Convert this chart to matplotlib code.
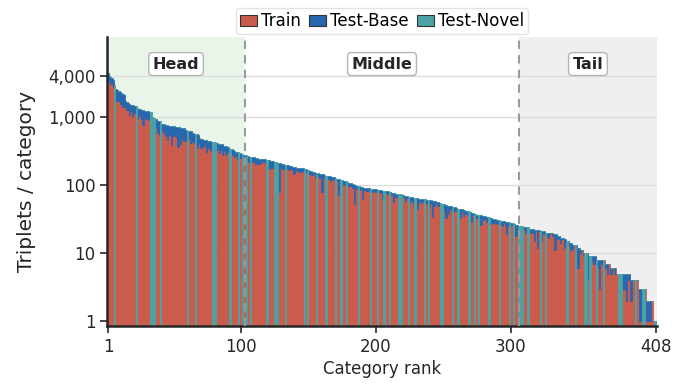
import numpy as np
import matplotlib
matplotlib.use("Agg")
import matplotlib.pyplot as plt
from matplotlib.ticker import FixedLocator, FixedFormatter
from matplotlib.patches import Patch

# ---- data ----
total = [
    4400, 4000, 3900, 3700, 3500, 3000, 2600, 2500, 2400, 2300,
    2250, 2200, 2100, 1700, 1650, 1600, 1580, 1520, 1500, 1480,
    1460, 1440, 1350, 1320, 1300, 1280, 1260, 1240, 1230, 1220,
    1210, 1200, 1190, 1000, 960, 950, 930, 880, 870, 860,
    800, 790, 780, 770, 760, 750, 745, 740, 735, 730,
    720, 715, 710, 705, 700, 698, 695, 690, 640, 630,
    625, 620, 615, 580, 565, 560, 555, 550, 500, 480,
    470, 466, 462, 458, 450, 440, 438, 436, 434, 432,
    430, 410, 405, 400, 398, 396, 380, 375, 370, 365,
    345, 340, 335, 330, 315, 310, 306, 303, 300, 290,
    285, 280, 278, 276, 265, 262, 260, 258, 256, 255,
    252, 248, 246, 245, 244, 243, 242, 240, 236, 232,
    230, 228, 226, 224, 222, 216, 212, 210, 208, 206,
    204, 200, 198, 197, 196, 194, 190, 186, 184, 182,
    181, 180, 179, 178, 177, 176, 172, 170, 168, 166,
    162, 160, 158, 155, 153, 152, 150, 148, 146, 145,
    144, 142, 138, 136, 135, 134, 133, 132, 130, 127,
    125, 124, 122, 120, 117, 116, 115, 114, 110, 108,
    107, 106, 104, 101, 99, 98, 97, 96, 95, 93,
    92, 92, 91, 90, 90, 89, 88, 88, 87, 87,
    86, 85, 84, 84, 83, 83, 82, 82, 81, 80,
    78, 77, 76, 76, 75, 74, 74, 73, 73, 72,
    70, 69, 69, 68, 67, 67, 66, 65, 64, 64,
    64, 63, 63, 63, 62, 62, 62, 61, 61, 60,
    60, 59, 58, 58, 57, 56, 55, 54, 53, 53,
    52, 51, 50, 50, 49, 49, 48, 47, 47, 46,
    45, 45, 44, 44, 43, 43, 42, 42, 41, 40,
    39, 39, 38, 38, 37, 37, 36, 36, 35, 35,
    35, 34, 34, 34, 33, 33, 32, 32, 32, 31,
    31, 31, 30, 30, 30, 29, 29, 29, 29, 28,
    28, 28, 27, 26, 26, 25, 25, 25, 25, 24,
    24, 24, 24, 23, 23, 23, 23, 22, 22, 22,
    22, 21, 21, 21, 21, 20, 20, 20, 20, 20,
    20, 19, 19, 19, 18, 18, 17, 17, 17, 16,
    16, 15, 15, 14, 14, 13, 13, 13, 13, 12,
    12, 11, 11, 10, 10, 10, 10, 9, 9, 9,
    9, 9, 9, 8, 8, 8, 8, 8, 8, 8,
    7, 7, 7, 6, 6, 6, 6, 6, 5, 5,
    5, 5, 5, 5, 5, 5, 5, 5, 4, 4,
    4, 4, 4, 4, 3, 3, 3, 3, 3, 3,
    2, 2, 2, 2, 2, 1, 1, 1,
]

test_base = [
    900, 700, 800, 600, 700, 0, 900, 800, 700, 750,
    700, 800, 600, 300, 400, 350, 500, 300, 450, 350,
    300, 0, 400, 250, 300, 350, 500, 200, 300, 250,
    300, 250, 0, 250, 0, 200, 250, 300, 350, 0,
    150, 200, 180, 250, 300, 200, 200, 350, 150, 200,
    150, 200, 350, 150, 300, 200, 250, 200, 200, 0,
    150, 200, 100, 150, 150, 0, 200, 120, 100, 130,
    100, 100, 80, 150, 100, 90, 120, 80, 0, 100,
    0, 80, 60, 100, 70, 120, 60, 100, 80, 60,
    0, 0, 60, 50, 60, 40, 70, 0, 50, 40,
    0, 40, 30, 0, 50, 30, 0, 40, 35, 30,
    50, 30, 40, 25, 30, 20, 25, 30, 0, 40,
    60, 50, 40, 45, 0, 30, 0, 130, 25, 30,
    30, 20, 0, 25, 30, 20, 15, 20, 40, 20,
    15, 20, 25, 20, 15, 20, 0, 15, 0, 20,
    15, 20, 15, 10, 25, 0, 15, 20, 10, 65,
    10, 15, 0, 12, 10, 20, 15, 10, 12, 0,
    10, 52, 10, 0, 12, 15, 10, 0, 8, 10,
    10, 8, 12, 48, 10, 8, 0, 10, 8, 30,
    8, 10, 6, 8, 5, 0, 10, 7, 6, 8,
    0, 6, 5, 8, 20, 0, 6, 5, 7, 0,
    5, 6, 19, 5, 8, 4, 0, 6, 0, 5,
    6, 10, 5, 0, 12, 8, 5, 14, 0, 6,
    20, 6, 5, 8, 4, 0, 10, 6, 0, 14,
    5, 25, 8, 4, 3, 6, 5, 0, 0, 8,
    10, 18, 4, 12, 5, 8, 0, 6, 3, 4,
    0, 6, 11, 3, 8, 3, 4, 6, 0, 5,
    10, 3, 0, 5, 4, 0, 3, 10, 2, 4,
    3, 5, 2, 0, 6, 3, 4, 2, 5, 3,
    4, 0, 3, 5, 2, 3, 10, 4, 0, 3,
    2, 0, 2, 8, 4, 0, 0, 2, 0, 1,
    4, 2, 0, 3, 2, 3, 1, 7, 1, 10,
    1, 0, 6, 1, 2, 0, 2, 3, 1, 0,
    2, 1, 8, 1, 1, 2, 3, 1, 1, 4,
    1, 0, 1, 1, 3, 1, 0, 0, 1, 6,
    1, 1, 0, 1, 0, 0, 6, 1, 0, 0,
    1, 2, 2, 0, 2, 5, 0, 1, 0, 0,
    1, 2, 0, 1, 1, 0, 1, 0, 0, 0,
    0, 0, 2, 2, 2, 3, 0, 1, 2, 2,
    0, 0, 0, 0, 0, 2, 2, 0, 0, 0,
    1, 1, 0, 1, 0, 0, 0, 0,
]

# ranks of categories whose triplets are all Test-Novel
novel_ranks = [6, 22, 33, 35, 40, 60, 66, 79, 81, 91, 92, 98, 101, 104, 107,
               119, 125, 127, 133, 147, 149, 156, 163, 170, 174, 178, 187,
               196, 201, 206, 210, 217, 219, 224, 229, 236, 239, 248, 249,
               257, 261, 269, 273, 276, 284, 292, 299, 302, 306, 307, 309,
               313, 322, 326, 342, 348, 355, 356, 359, 364, 369, 380, 381,
               382, 393, 398, 399, 407, 408]

x_ticks = [1, 100, 200, 300, 408]
y_ticks = [1, 10, 100, 1000, 4000]
y_ticklabels = ["1", "10", "100", "1,000", "4,000"]
regions = ["Head", "Middle", "Tail"]
region_bounds = [102.5, 306.5]
series_names = ["Train", "Test-Base", "Test-Novel"]
colors = ["#c95c4c", "#2866b0", "#4aa3a5"]

# ---- derived series ----
total_a = np.array(total, dtype=float)
base_a = np.array(test_base, dtype=float)
rank = np.arange(1, len(total_a) + 1)
is_novel = np.isin(rank, novel_ranks)
base_a[is_novel] = 0
train_a = np.where(is_novel, 0, total_a - base_a)
novel_a = np.where(is_novel, total_a, 0)

plt.rcParams['font.family'] = ['DejaVu Sans']
fig = plt.figure(figsize=(6.84, 3.85), dpi=100)
ax = fig.add_axes([0.157, 0.153, 0.803, 0.751])

ax.set_yscale('log')
ax.set_xlim(0.5, 408.5)
ax.set_ylim(0.85, 15000)

# region shading
ax.axvspan(0.5, region_bounds[0], color="#eaf5ea", zorder=0, lw=0)
ax.axvspan(region_bounds[1], 408.5, color="#efefef", zorder=0, lw=0)
ax.grid(axis='y', color="#dcdcdc", lw=1.0, zorder=0.5)
ax.set_axisbelow(True)

lw = 0.6
ax.bar(rank, train_a, width=1.0, color=colors[0], edgecolor=colors[0],
       linewidth=lw, zorder=2)
ax.bar(rank, base_a, width=1.0, bottom=train_a, color=colors[1],
       edgecolor=colors[1], linewidth=lw, zorder=2)
ax.bar(rank, novel_a, width=1.0, bottom=train_a + base_a, color=colors[2],
       edgecolor=colors[2], linewidth=lw, zorder=2)

for b in region_bounds:
    ax.axvline(b, color="#9a9a9a", ls=(0, (4, 3)), lw=1.5, zorder=3)

centers = [(0.5 + region_bounds[0]) / 2, (region_bounds[0] + region_bounds[1]) / 2,
           (region_bounds[1] + 408.5) / 2]
for name, cx in zip(regions, centers):
    ax.text(cx, 6000, name, ha='center', va='center', fontsize=11.5,
            fontweight='bold', color="#262626", zorder=4,
            bbox=dict(boxstyle="round,pad=0.25", fc="white", ec="#b5b5b5", lw=1.0))

ax.yaxis.set_major_locator(FixedLocator(y_ticks))
ax.yaxis.set_major_formatter(FixedFormatter(y_ticklabels))
ax.yaxis.set_minor_locator(FixedLocator([]))
ax.set_xticks(x_ticks)
ax.tick_params(axis='both', labelsize=12, colors="#262626", direction='out',
               length=5, width=1.2)
for s in ['top', 'right']:
    ax.spines[s].set_visible(False)
for s in ['left', 'bottom']:
    ax.spines[s].set_color("#262626")
    ax.spines[s].set_linewidth(1.8)

ax.set_xlabel("Category rank", fontsize=12, color="#262626", labelpad=3)
ax.set_ylabel("Triplets / category", fontsize=14.5, color="#262626", labelpad=9)

handles = [Patch(facecolor=c, edgecolor="#333333", lw=0.8) for c in colors]
leg = ax.legend(handles, series_names, loc='lower center',
                bbox_to_anchor=(0.5, 1.0), ncol=3,
                fontsize=12, frameon=True, handlelength=1.0, handleheight=0.7,
                handletextpad=0.25, columnspacing=0.5, borderpad=0.25,
                borderaxespad=0.15, fancybox=True)
leg.get_frame().set_edgecolor("#dddddd")

fig.savefig("out.png", dpi=100)
